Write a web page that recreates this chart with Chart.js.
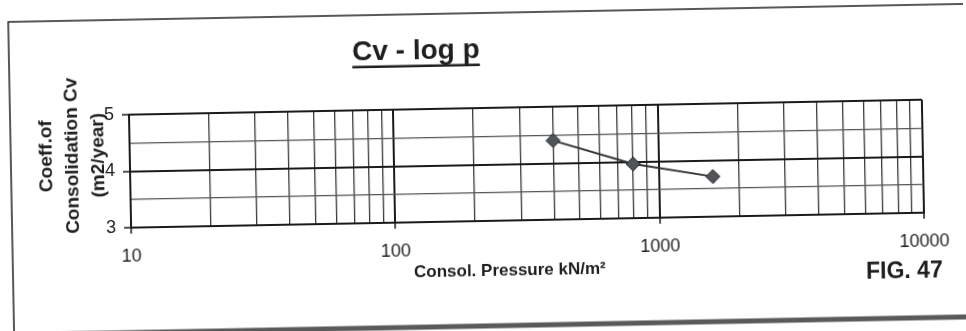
<!DOCTYPE html>
<html>
<head>
<meta charset="utf-8">
<title>Cv - log p</title>
<script src="https://cdn.jsdelivr.net/npm/chart.js@4.4.1/dist/chart.umd.min.js"></script>
<style>
  html, body { margin: 0; padding: 0; background: #fff; overflow: hidden; }
  #wrap { width: 966px; height: 331px; transform: rotate(-1.08deg); transform-origin: 483px 165px; }
</style>
</head>
<body>
<div id="wrap"><canvas id="cv-chart" width="966" height="331"></canvas></div>
<script>
// Consolidation test results
const pressure = [400, 800, 1600];      // kN/m2
const cvValues = [4.4, 3.96, 3.71];     // m2/year

// Axis ticks
const xDecades = [10, 100, 1000, 10000];
const xMinorSteps = [2, 3, 4, 5, 6, 7, 8, 9];
const yTicks = [3, 3.5, 4, 4.5, 5];
const yLabels = [3, 4, 5];

const FONT = '"Liberation Sans", Arial, sans-serif';

// grid values for the log axis: every 1..9 of each decade
const xGrid = [];
xDecades.forEach((d, i) => {
  xGrid.push(d);
  if (i < xDecades.length - 1) xMinorSteps.forEach(s => xGrid.push(d * s));
});

const isDecade = v => xDecades.includes(v);

// Page texts and frame
const pageText = {
  id: 'pageText',
  afterDraw(chart) {
    const ctx = chart.ctx;
    ctx.save();

    // frame
    ctx.strokeStyle = '#222';
    ctx.lineWidth = 1.5;
    ctx.beginPath();
    ctx.moveTo(11, 340);
    ctx.lineTo(11, 13);
    ctx.lineTo(980, 13);
    ctx.stroke();
    ctx.strokeStyle = '#5a5a5a';
    ctx.lineWidth = 5;
    ctx.beginPath();
    ctx.moveTo(0, 326);
    ctx.lineTo(980, 326);
    ctx.stroke();

    ctx.fillStyle = '#1e1e1e';
    ctx.textBaseline = 'alphabetic';

    // title with underline
    ctx.font = 'bold 28px ' + FONT;
    ctx.textAlign = 'center';
    const title = 'Cv - log p';
    const tw = ctx.measureText(title).width;
    ctx.fillText(title, 418, 58);
    ctx.fillRect(418 - tw / 2, 63.5, tw, 2.5);

    // y title, three lines
    ctx.font = 'bold 19px ' + FONT;
    const yTitle = ['Coeff.of', 'Consolidation Cv', '(m2/year)'];
    const baseX = [52, 78, 104];
    yTitle.forEach((line, i) => {
      ctx.save();
      ctx.translate(baseX[i], 148);
      ctx.rotate(-Math.PI / 2);
      ctx.fillText(line, 0, 0);
      ctx.restore();
    });

    // x title
    ctx.font = 'bold 17px ' + FONT;
    ctx.textAlign = 'left';
    ctx.fillText('Consol. Pressure kN/m\u00B2', 412, 276);

    // figure number
    ctx.font = 'bold 23px ' + FONT;
    ctx.fillText('FIG. 47', 864, 286);

    ctx.restore();
  }
};

new Chart(document.getElementById('cv-chart'), {
  type: 'scatter',
  data: {
    datasets: [{
      data: pressure.map((p, i) => ({ x: p, y: cvValues[i] })),
      showLine: true,
      borderColor: '#333',
      borderWidth: 2,
      pointStyle: 'rectRot',
      pointRadius: 7,
      pointHoverRadius: 7,
      pointBackgroundColor: '#4f555b',
      pointBorderColor: '#222',
      pointBorderWidth: 1
    }]
  },
  options: {
    responsive: false,
    animation: false,
    events: [],
    layout: { padding: { top: 108, right: 43, left: 0, bottom: 0 } },
    plugins: { legend: { display: false }, tooltip: { enabled: false } },
    scales: {
      x: {
        type: 'logarithmic',
        min: 10,
        max: 10000,
        afterBuildTicks: axis => { axis.ticks = xGrid.map(v => ({ value: v })); },
        afterFit: axis => { axis.height = 110; },
        ticks: {
          autoSkip: false,
          maxRotation: 0,
          padding: 12,
          color: '#222',
          font: { family: FONT, size: 18 },
          callback: v => isDecade(v) ? String(v) : ''
        },
        grid: {
          color: c => c.tick && isDecade(c.tick.value) ? '#1a1a1a' : '#3a3a3a',
          lineWidth: c => c.tick && isDecade(c.tick.value) ? 2 : 1.3,
          tickLength: 6,
          tickColor: c => c.tick && isDecade(c.tick.value) ? '#1a1a1a' : 'rgba(0,0,0,0)',
          tickWidth: 1.5
        },
        border: { color: '#1a1a1a', width: 2 }
      },
      y: {
        min: 3,
        max: 5,
        afterBuildTicks: axis => { axis.ticks = yTicks.map(v => ({ value: v })); },
        afterFit: axis => { axis.width = 130; },
        ticks: {
          padding: 8,
          color: '#222',
          font: { family: FONT, size: 18 },
          callback: v => yLabels.includes(v) ? String(v) : ''
        },
        grid: {
          color: c => c.tick && yLabels.includes(c.tick.value) ? '#1a1a1a' : '#555',
          lineWidth: c => c.tick && yLabels.includes(c.tick.value) ? 2 : 1.2,
          tickLength: 7,
          tickColor: c => c.tick && yLabels.includes(c.tick.value) ? '#1a1a1a' : 'rgba(0,0,0,0)',
          tickWidth: 1.5
        },
        border: { color: '#1a1a1a', width: 2 }
      }
    }
  },
  plugins: [pageText]
});
</script>
</body>
</html>
